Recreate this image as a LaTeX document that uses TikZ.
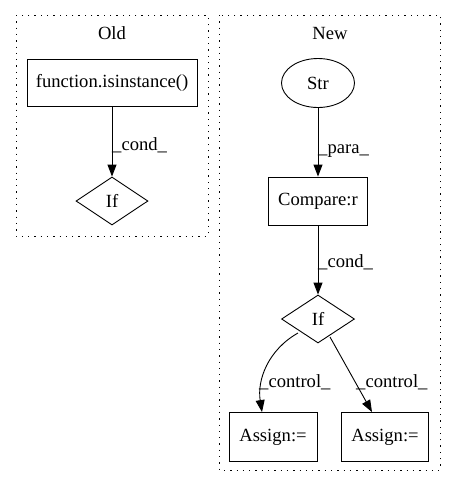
\documentclass[tikz,border=0pt]{standalone}
\usepackage{fontspec}
\setmainfont{Liberation Serif}
\usetikzlibrary{shapes.geometric,arrows.meta}
\begin{document}
\begin{tikzpicture}[x=1pt,y=-1pt,
  every node/.style={font=\fontsize{18.6}{21}\selectfont},
  cluster/.style={draw,line width=1pt,dash pattern=on 1.3pt off 5pt},
  boxnode/.style={draw,rectangle,inner sep=0pt,line width=0.9pt},
  diam/.style={draw,diamond,aspect=1.5,inner sep=0pt,line width=0.9pt},
  ell/.style={draw,ellipse,inner sep=0pt,line width=0.9pt},
  edge/.style={draw,line width=0.9pt,-{Triangle[length=12pt,width=9pt]}},
  elabel/.style={inner sep=0pt,anchor=west}]
\useasboundingbox (0,0) rectangle (456,488);
\draw[cluster] (16,15) rectangle (208,236);
\draw[cluster] (219,15) rectangle (440,470);
\node (oldt) at (112,33) {Old};
\node (newt) at (330,33) {New};
\node[boxnode,minimum width=170pt,minimum height=47pt] (fn) at (112,83) {function.isinstance()};
\node[diam,minimum width=72pt,minimum height=48pt] (if1) at (112,201) {If};
\node[ell,minimum width=73pt,minimum height=49pt] (str) at (318,83) {Str};
\node[boxnode,minimum width=99pt,minimum height=48pt] (cmp) at (318,201) {Compare:r};
\node[diam,minimum width=73pt,minimum height=48pt] (if2) at (318,319) {If};
\node[boxnode,minimum width=88pt,minimum height=49pt] (as1) at (273,437) {Assign:=};
\node[boxnode,minimum width=87pt,minimum height=49pt] (as2) at (385,437) {Assign:=};
\draw[edge] (fn) -- (if1.north);
\node[elabel] (lc1) at (112,145) {\_cond\_};
\draw[edge] (str) -- (cmp);
\node[elabel] (lp) at (318,151) {\_para\_};
\draw[edge] (cmp) -- (if2.north);
\node[elabel] (lc2) at (318,262) {\_cond\_};
\coordinate (l1) at (298,333);
\draw[edge] (l1) .. controls (268,350) and (257,380) .. (as1.north -| 262,0);
\node[elabel] (c1) at (259,382) {\_control\_};
\coordinate (r1) at (330,337);
\draw[edge] (r1) -- (as2.north -| 372,0);
\node[elabel] (c2) at (356,382) {\_control\_};
\end{tikzpicture}
\end{document}
